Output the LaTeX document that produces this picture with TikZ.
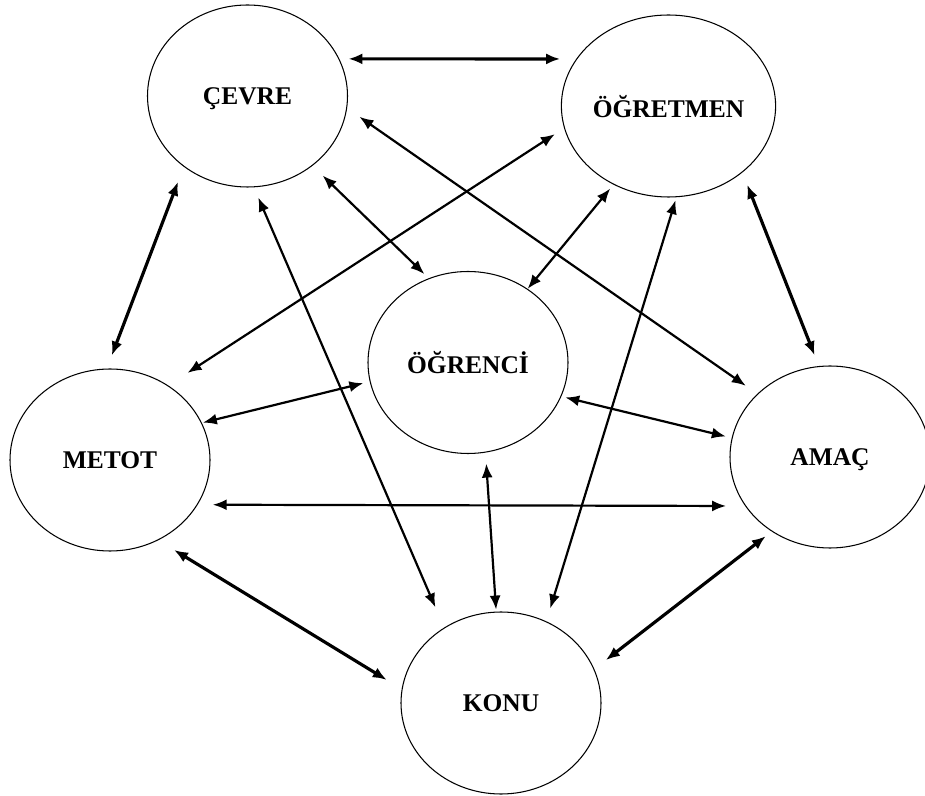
\documentclass[tikz,border=0pt]{standalone}
\usepackage{fontspec}
\setmainfont{Liberation Serif}
\usetikzlibrary{shapes.geometric,arrows.meta}

\begin{document}
\begin{tikzpicture}[
  unit/.style={draw, ellipse, line width=0.6pt, minimum width=4cm, minimum height=3.64cm, inner sep=0pt, text depth=0pt, font=\fontsize{14.5}{17}\selectfont\bfseries},
  link/.style={{Latex[length=2.8mm,width=2.2mm]}-{Latex[length=2.8mm,width=2.2mm]}, line width=1.25pt},
  boldlink/.style={link, line width=1.8pt}
]
\useasboundingbox (0,0) rectangle (18.5,15.9);

\node [unit] (cevre) at (4.95,13.98) {ÇEVRE};
\node [unit] (ogretmen) at (13.37,13.78) {ÖĞRETMEN};
\node [unit] (ogrenci) at (9.36,8.65) {ÖĞRENCİ};
\node [unit] (metot) at (2.20,6.70) {METOT};
\node [unit] (amac) at (16.60,6.76) {AMAÇ};
\node [unit] (konu) at (10.02,1.84) {KONU};

\draw [boldlink, shorten <=0.18cm, shorten >=0.32cm] (cevre.22) -- (ogretmen.153);
\draw [link, shorten <=0.30cm, shorten >=0.28cm] (cevre.-7) -- (amac.139);
\draw [link, shorten <=0.28cm, shorten >=0.12cm] (cevre.-47) -- (ogrenci.115);
\draw [link, shorten <=0.22cm, shorten >=0.44cm] (cevre.-86) -- (konu.127);
\draw [boldlink, shorten <=0.32cm, shorten >=0.28cm] (cevre.228) -- (metot.92);
\draw [link, shorten <=0.22cm, shorten >=0.46cm] (ogretmen.192) -- (metot.52);
\draw [link, shorten <=0.10cm] (ogretmen.235) -- (ogrenci.51);
\draw [link, shorten <=0.06cm, shorten >=0.27cm] (ogretmen.275) -- (konu.61);
\draw [boldlink, shorten <=0.26cm, shorten >=0.23cm] (ogretmen.-42) -- (amac.97);
\draw [link, shorten <=0.13cm, shorten >=0.02cm] (ogrenci.191) -- (metot.22);
\draw [link, shorten <=0.08cm, shorten >=0.12cm] (ogrenci.-20) -- (amac.169);
\draw [link, shorten <=0.22cm, shorten >=0.04cm] (ogrenci.-79) -- (konu.93);
\draw [link, shorten <=0.30cm, shorten >=0.38cm] (metot.-27) -- (amac.210);
\draw [boldlink, shorten <=0.37cm, shorten >=0.35cm] (metot.-59) -- (konu.172);
\draw [boldlink, shorten <=0.15cm, shorten >=0.29cm] (amac.232) -- (konu.20);
\end{tikzpicture}
\end{document}
